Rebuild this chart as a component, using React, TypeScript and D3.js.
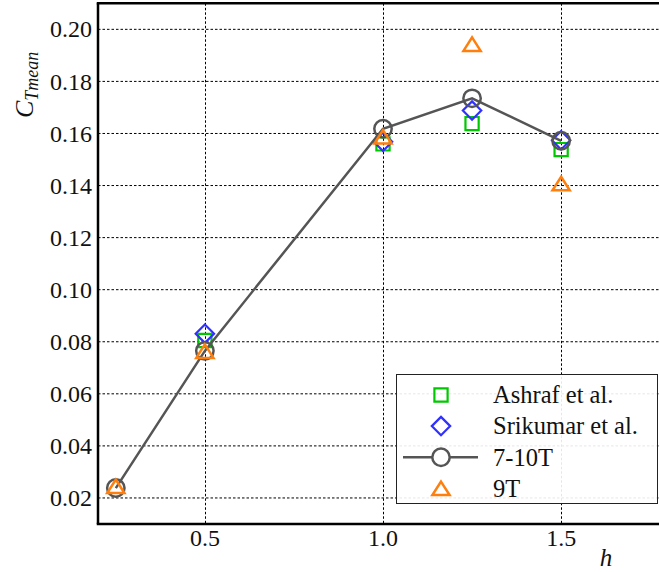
import React from 'react';
import * as d3 from 'd3';

// h values and mean thrust coefficient per source
const hAll = [0.25, 0.5, 1.0, 1.25, 1.5];
const hExp = [0.5, 1.0, 1.25, 1.5];
const ashraf = [0.0805, 0.156, 0.1638, 0.1538];
const srikumar = [0.0831, 0.1568, 0.1688, 0.1574];
const t710 = [0.0238, 0.0765, 0.1618, 0.1735, 0.1572];
const t9 = [0.0245, 0.0764, 0.1587, 0.1943, 0.1408];

const xTicks = [0.5, 1.0, 1.5];
const yTicks = [0.02, 0.04, 0.06, 0.08, 0.1, 0.12, 0.14, 0.16, 0.18, 0.2];
const legendLabels = ['Ashraf et al.', 'Srikumar et al.', '7-10T', '9T'];

const W = 659;
const H = 572;
const FONT = "'Liberation Serif'";

const GREEN = '#00c800';
const BLUE = '#3030ff';
const GRAY = '#555555';
const ORANGE = '#ff7f0e';

const x = d3.scaleLinear().domain([0.2, 1.8]).range([98, 668]);
const y = d3.scaleLinear().domain([0.01, 0.21]).range([524, 3.3]);

// marker paths
const square = (s: number) => `M${-s},${-s}H${s}V${s}H${-s}Z`;
const diamond = (s: number) => `M0,${-s}L${s},0L0,${s}L${-s},0Z`;
const triangle = (w: number, h: number) => `M0,${-h / 2}L${w},${h / 2}L${-w},${h / 2}Z`;

const SQ = square(6.6);
const DM = diamond(9.2);
const TR = triangle(8.6, 13.5);

const line = d3.line<number>()
  .x((d, i) => x(hAll[i]))
  .y((d) => y(d));

const txt = { fontFamily: FONT, fill: '#111' };

export default function App() {
  const rowY = (i: number) => 395 + i * 31.1;
  const mx = 441;
  return (
    <svg
      width={W}
      height={H}
      style={{ position: 'absolute', left: 0, top: 0, background: '#fff' }}
    >
      {/* grid */}
      <g stroke="#000" strokeWidth={1} strokeDasharray="2.5,2">
        {xTicks.map((d) => (
          <line key={d} x1={Math.round(x(d)) + 0.5} x2={Math.round(x(d)) + 0.5} y1={y(0.21)} y2={y(0.01)} />
        ))}
        {yTicks.map((d) => (
          <line key={d} x1={x(0.2)} x2={x(1.8)} y1={y(d)} y2={y(d)} />
        ))}
      </g>

      {/* tick labels */}
      {yTicks.map((d) => (
        <text key={d} x={92} y={y(d)} dy="0.34em" textAnchor="end" fontSize={24} style={txt}>
          {d3.format('.2f')(d)}
        </text>
      ))}
      {xTicks.map((d) => (
        <text key={d} x={x(d)} y={546} textAnchor="middle" fontSize={24} style={txt}>
          {d3.format('.1f')(d)}
        </text>
      ))}

      {/* series */}
      {hExp.map((d, i) => (
        <path key={d} transform={`translate(${x(d)},${y(ashraf[i])})`} d={SQ} fill="none" stroke={GREEN} strokeWidth={2.2} />
      ))}
      {hExp.map((d, i) => (
        <path key={d} transform={`translate(${x(d)},${y(srikumar[i])})`} d={DM} fill="none" stroke={BLUE} strokeWidth={2.2} />
      ))}
      <path d={line(t710) || ''} fill="none" stroke={GRAY} strokeWidth={2.5} />
      {t710.map((d, i) => (
        <circle key={i} cx={x(hAll[i])} cy={y(d)} r={8.7} fill="none" stroke={GRAY} strokeWidth={2.5} />
      ))}
      {t9.map((d, i) => (
        <path key={i} transform={`translate(${x(hAll[i])},${y(d)})`} d={TR} fill="none" stroke={ORANGE} strokeWidth={2.5} />
      ))}

      {/* spines */}
      <g stroke="#000" strokeWidth={2.5}>
        <line x1={x(0.2)} x2={x(0.2)} y1={y(0.21)} y2={y(0.01)} />
        <line x1={x(0.2) - 1.25} x2={x(1.8)} y1={y(0.21)} y2={y(0.21)} />
        <line x1={x(0.2) - 1.25} x2={x(1.8)} y1={y(0.01)} y2={y(0.01)} />
      </g>

      {/* axis labels */}
      <text transform="translate(33,118) rotate(-90)" fontStyle="italic" style={txt}>
        <tspan fontSize={26}>C</tspan>
        <tspan fontSize={18} dy={5}>Tmean</tspan>
      </text>
      <text x={606} y={566} textAnchor="middle" fontStyle="italic" fontSize={25} style={txt}>h</text>

      {/* legend */}
      <rect x={396.5} y={374.5} width={261} height={129} fill="#fff" fillOpacity={0.9} stroke="#222" strokeWidth={1} />
      <path transform={`translate(${mx},${rowY(0)})`} d={SQ} fill="none" stroke={GREEN} strokeWidth={2.2} />
      <path transform={`translate(${mx},${rowY(1)})`} d={DM} fill="none" stroke={BLUE} strokeWidth={2.2} />
      <line x1={403} x2={478} y1={rowY(2)} y2={rowY(2)} stroke={GRAY} strokeWidth={2.5} />
      <circle cx={mx} cy={rowY(2)} r={8.7} fill="#fff" stroke={GRAY} strokeWidth={2.5} />
      <path transform={`translate(${mx},${rowY(3)})`} d={TR} fill="none" stroke={ORANGE} strokeWidth={2.5} />
      {legendLabels.map((d, i) => (
        <text key={d} x={493} y={rowY(i)} dy="0.34em" fontSize={24.5} style={txt}>{d}</text>
      ))}
    </svg>
  );
}
